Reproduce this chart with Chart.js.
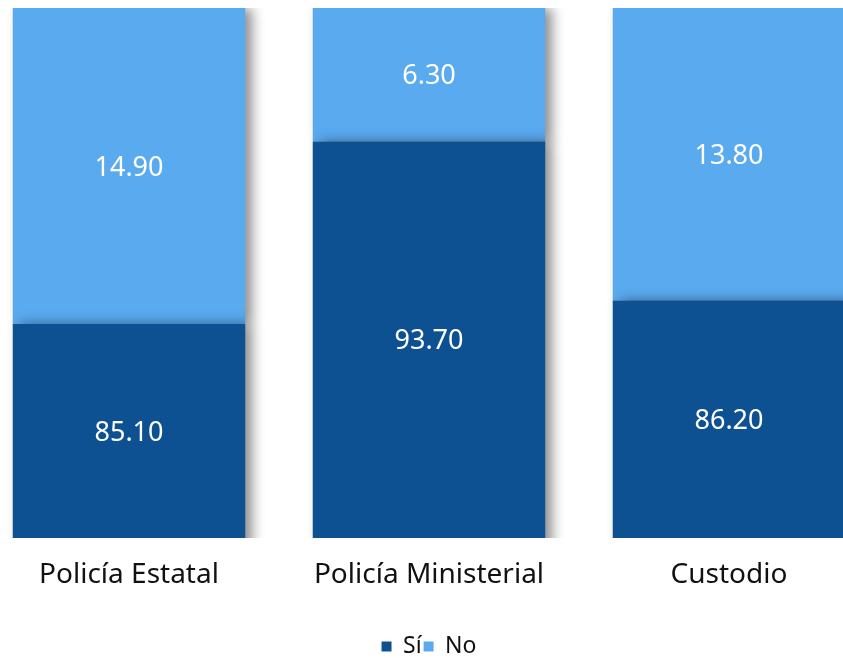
<!DOCTYPE html>
<html lang="es">
<head>
    <meta charset="UTF-8">
    <title>Sí / No por corporación</title>
    <script src="https://cdn.jsdelivr.net/npm/chart.js"></script>
    <style>
        html, body {
            margin: 0;
            padding: 0;
            overflow: hidden;
            background: #ffffff;
        }
        .wrap {
            position: absolute;
            left: -21px;
            top: 0;
            width: 900px;
            height: 668px;
        }
    </style>
</head>
<body>
    <div class="wrap"><canvas id="grafica"></canvas></div>

    <script>
        const categorias = ["Policía Estatal", "Policía Ministerial", "Custodio"];
        const valoresSi = [85.10, 93.70, 86.20];
        const valoresNo = [14.90, 6.30, 13.80];
        const ejeMin = 75;
        const ejeMax = 100;

        const fuente = "'Noto Sans', 'Open Sans', sans-serif";

        // sombra gris a la derecha de cada barra
        const sombra = {
            id: 'sombra',
            beforeDatasetsDraw(chart) {
                const ctx = chart.ctx;
                ctx.save();
                ctx.shadowColor = 'rgba(0,0,0,0.45)';
                ctx.shadowBlur = 12;
                ctx.shadowOffsetX = 7;
                ctx.shadowOffsetY = 0;
            },
            afterDatasetsDraw(chart) {
                chart.ctx.restore();
            }
        };

        // etiquetas blancas en el centro de la parte visible de cada segmento
        const etiquetas = {
            id: 'etiquetas',
            afterDraw(chart) {
                const ctx = chart.ctx;
                const area = chart.chartArea;
                ctx.save();
                ctx.fillStyle = '#ffffff';
                ctx.font = "27px " + fuente;
                ctx.textAlign = 'center';
                ctx.textBaseline = 'middle';
                chart.data.datasets.forEach((ds, i) => {
                    chart.getDatasetMeta(i).data.forEach((bar, j) => {
                        const arriba = Math.max(Math.min(bar.y, bar.base), area.top);
                        const abajo = Math.min(Math.max(bar.y, bar.base), area.bottom);
                        ctx.fillText(ds.data[j].toFixed(2), bar.x, (arriba + abajo) / 2 + 2);
                    });
                });
                ctx.restore();
            }
        };

        new Chart(document.getElementById('grafica'), {
            type: 'bar',
            data: {
                labels: categorias,
                datasets: [
                    { label: 'Sí', data: valoresSi, backgroundColor: '#0E5193' },
                    { label: 'No', data: valoresNo, backgroundColor: '#5AAAF0' }
                ]
            },
            options: {
                responsive: true,
                maintainAspectRatio: false,
                animation: false,
                layout: { padding: { top: 8, bottom: 0, left: 0, right: 0 } },
                datasets: {
                    bar: { categoryPercentage: 1, barPercentage: 0.775 }
                },
                scales: {
                    x: {
                        stacked: true,
                        grid: { display: false },
                        border: { display: false },
                        ticks: {
                            color: '#111111',
                            padding: 12,
                            font: { family: fuente, size: 28 }
                        },
                        afterFit(scale) { scale.height = 95; }
                    },
                    y: {
                        stacked: true,
                        display: false,
                        min: ejeMin,
                        max: ejeMax
                    }
                },
                plugins: {
                    legend: {
                        position: 'bottom',
                        labels: {
                            color: '#111111',
                            boxWidth: 10,
                            boxHeight: 10,
                            padding: 2,
                            font: { family: fuente, size: 23 }
                        }
                    },
                    tooltip: { enabled: false }
                }
            },
            plugins: [sombra, etiquetas]
        });
    </script>
</body>
</html>
